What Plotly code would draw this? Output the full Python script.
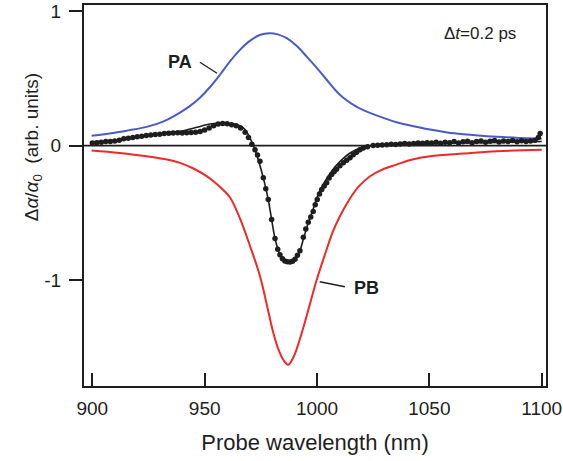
import plotly.graph_objects as go

# ---- data ----
pa_x = [899.7, 909.3, 916.0, 924.2, 932.0, 939.0, 943.5, 947.9, 952.5, 956.8, 961.0, 965.7, 969.5,
        973.1, 976.0, 979.0, 982.5, 986.5, 991.0, 995.4, 1000.0, 1004.3, 1008.0, 1011.7,
        1016.0, 1020.4, 1028.0, 1035.0, 1040.0, 1050.3, 1058.0, 1065.1, 1080.0, 1090.0, 1100.0]
pa_y = [0.074, 0.094, 0.113, 0.139, 0.182, 0.245, 0.295, 0.356, 0.437, 0.526, 0.620, 0.711, 0.770,
        0.810, 0.828, 0.835, 0.826, 0.798, 0.740, 0.661, 0.575, 0.489, 0.415, 0.355,
        0.305, 0.265, 0.215, 0.175, 0.155, 0.119, 0.098, 0.085, 0.066, 0.057, 0.050]

pb_x = [899.7, 912.0, 924.2, 932.0, 939.0, 945.0, 950.9, 955.0, 958.3, 961.3, 965.7, 970.2,
        974.6, 977.5, 980.5, 983.0, 985.0, 987.2, 989.8, 992.5, 995.4, 999.8, 1004.3,
        1007.0, 1010.2, 1014.4, 1018.5, 1023.6, 1029.0, 1035.4, 1042.0, 1050.3, 1065.1,
        1080.0, 1100.0]
pb_y = [-0.037, -0.055, -0.079, -0.100, -0.128, -0.170, -0.227, -0.280, -0.330, -0.385,
        -0.540, -0.746, -0.968, -1.170, -1.387, -1.520, -1.590, -1.627, -1.560, -1.430,
        -1.264, -1.000, -0.770, -0.640, -0.524, -0.400, -0.305, -0.228, -0.178, -0.141,
        -0.105, -0.079, -0.059, -0.042, -0.030]

fit_x = [900.4, 909.0, 916.8, 931.6, 939.0, 946.5, 952.4, 958.3, 964.2, 967.2, 969.4,
         971.6, 972.4, 976.1, 978.3, 981.3, 983.5, 986.0, 988.0, 990.2, 992.4, 994.0,
         996.0, 998.3, 1000.1, 1002.0, 1004.3, 1006.5, 1008.7, 1011.7, 1014.7, 1017.6,
         1020.6, 1025.0, 1040.0, 1060.0, 1080.0, 1100.0]
fit_y = [0.028, 0.040, 0.057, 0.094, 0.106, 0.136, 0.160, 0.168, 0.156, 0.131, 0.081,
         0.002, -0.030, -0.240, -0.400, -0.690, -0.810, -0.858, -0.865, -0.845, -0.780,
         -0.690, -0.580, -0.470, -0.380, -0.310, -0.245, -0.190, -0.145, -0.095, -0.055,
         -0.028, -0.010, 0.000, 0.010, 0.018, 0.024, 0.030]

dots_x = [900, 902, 904, 906, 908, 910, 912, 914, 916, 918, 920, 922, 924, 926, 928, 930,
          932, 934, 936, 938, 940, 942, 944, 946, 948, 950, 952, 954, 956, 958, 960, 962,
          964, 966, 968, 969.5, 971, 972.4, 973.5, 974.6, 976.1, 977.2, 978.3, 979.8,
          981.3, 982.5, 983.5, 984.6, 985.7, 986.8, 988.0, 989.1, 990.2, 991.3, 992.4,
          993.9, 995.0, 996.1, 997.2, 998.3, 999.2, 1000.1, 1001.1, 1002.1, 1003.2,
          1004.3, 1005.4, 1006.5, 1007.6, 1008.7, 1010.2, 1011.7, 1013.2, 1014.7, 1016.1,
          1017.6, 1019.1, 1020.6, 1022.5, 1025, 1027, 1029, 1031, 1033, 1035, 1037, 1039,
          1041, 1043, 1045, 1047, 1049, 1051, 1053, 1055, 1057, 1059, 1061, 1063, 1065,
          1067, 1069, 1071, 1073, 1075, 1077, 1079, 1081, 1083, 1085, 1087, 1089, 1091,
          1093, 1095, 1097, 1098.5, 1099.3]
dots_y = [0.020, 0.022, 0.025, 0.030, 0.030, 0.035, 0.040, 0.050, 0.055, 0.060, 0.065,
          0.070, 0.075, 0.078, 0.082, 0.085, 0.090, 0.092, 0.094, 0.095, 0.093, 0.095,
          0.098, 0.100, 0.105, 0.115, 0.130, 0.148, 0.160, 0.165, 0.162, 0.155, 0.148,
          0.130, 0.100, 0.060, 0.010, -0.030, -0.070, -0.116, -0.239, -0.320, -0.400,
          -0.548, -0.690, -0.770, -0.810, -0.840, -0.857, -0.862, -0.865, -0.858, -0.844,
          -0.815, -0.780, -0.680, -0.620, -0.570, -0.530, -0.490, -0.440, -0.400, -0.360,
          -0.326, -0.300, -0.276, -0.240, -0.215, -0.195, -0.175, -0.150, -0.128, -0.108,
          -0.090, -0.068, -0.050, -0.030, -0.017, -0.008, 0.000, 0.003, 0.005, 0.007,
          0.010, 0.008, 0.012, 0.015, 0.012, 0.016, 0.020, 0.018, 0.022, 0.020, 0.024,
          0.018, 0.025, 0.022, 0.030, 0.020, 0.028, 0.033, 0.022, 0.030, 0.035, 0.025,
          0.032, 0.038, 0.026, 0.034, 0.030, 0.038, 0.028, 0.036, 0.030, 0.035, 0.040,
          0.060, 0.090]

x_ticks = [900, 950, 1000, 1050, 1100]
y_ticks = [-1, 0, 1]

FONT = "Liberation Sans, Arial, sans-serif"
INK = "#1e1e1e"

fig = go.Figure()
fig.add_trace(go.Scatter(x=pa_x, y=pa_y, mode="lines", line=dict(color="#4a5cc4", width=2, shape="spline", smoothing=1.0)))
fig.add_trace(go.Scatter(x=pb_x, y=pb_y, mode="lines", line=dict(color="#f02828", width=2, shape="spline", smoothing=1.0)))
fig.add_trace(go.Scatter(x=fit_x, y=fit_y, mode="lines", line=dict(color=INK, width=1.6, shape="spline", smoothing=0.8)))
fig.add_trace(go.Scatter(x=dots_x, y=dots_y, mode="markers", marker=dict(color=INK, size=5.5)))

fig.add_shape(type="line", x0=896.3, x1=1101.9, y0=0, y1=0, line=dict(color=INK, width=1.6), layer="above")
# leader lines
fig.add_shape(type="line", x0=947.9, y0=0.619, x1=955.5, y1=0.537, line=dict(color=INK, width=1.3))
fig.add_shape(type="line", x0=1001.2, y0=-1.011, x1=1012.4, y1=-1.048, line=dict(color=INK, width=1.3))

fig.add_annotation(x=939.2, y=0.619, text="<b>PA</b>", showarrow=False, font=dict(size=18, color=INK, family=FONT))
fig.add_annotation(x=1021.8, y=-1.056, text="<b>PB</b>", showarrow=False, font=dict(size=18, color=INK, family=FONT))
fig.add_annotation(x=1072.5, y=0.833, text="Δ<i>t</i>=0.2 ps", showarrow=False, font=dict(size=17, color=INK, family=FONT))
fig.add_annotation(xref="paper", yref="paper", x=-0.110, y=0.627, xanchor="center", yanchor="middle",
                   textangle=-90, text="Δ<i>α</i>/<i>α</i><sub>0</sub>  (arb. units)", showarrow=False,
                   font=dict(size=19, color=INK, family=FONT))

fig.update_layout(
    width=563, height=461,
    margin=dict(l=84, r=17, t=4.5, b=74.5, autoexpand=False),
    paper_bgcolor="white", plot_bgcolor="white",
    showlegend=False,
    font=dict(family=FONT, color=INK),
)
fig.update_xaxes(range=[896.3, 1101.9], tickvals=x_ticks, ticktext=[str(v) for v in x_ticks],
                 ticks="inside", ticklen=13, tickwidth=1.6, tickcolor=INK, automargin=False,
                 showline=True, linecolor=INK, linewidth=2, mirror=True, showgrid=False, zeroline=False,
                 tickfont=dict(size=19, color=INK, family=FONT), ticklabelstandoff=4,
                 title=dict(text="Probe wavelength (nm)", font=dict(size=22, color=INK, family=FONT), standoff=17))
fig.update_yaxes(range=[-1.785, 1.044], tickvals=y_ticks, ticktext=["-1", "0", "1"],
                 ticks="outside", ticklen=13, tickwidth=1.6, tickcolor=INK, automargin=False,
                 showline=True, linecolor=INK, linewidth=2, mirror=True, showgrid=False, zeroline=False,
                 tickfont=dict(size=19, color=INK, family=FONT), ticklabelstandoff=4)

fig.write_html("out.html", config={"displayModeBar": False},
               post_script="document.body.style.margin='0';document.body.style.padding='0';")
